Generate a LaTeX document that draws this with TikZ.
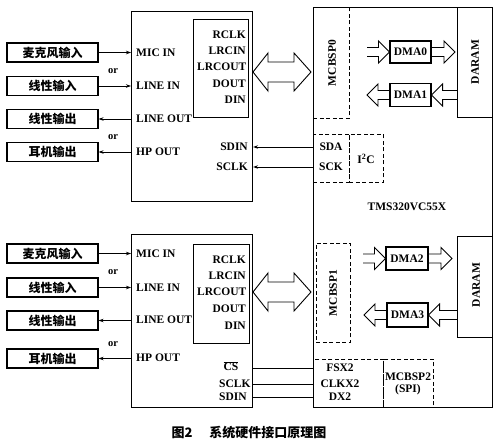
\documentclass[tikz,border=0pt]{standalone}
\usepackage{fontspec}
\setmainfont{Liberation Serif}
\newfontfamily\cjk{Noto Sans CJK SC}
\usetikzlibrary{arrows.meta,calc}
% hollow arrow: tail, head tip, signed head length
\newcommand{\hollowarrow}[3]{%
  \draw[hollow] let \p1=#1, \p2=#2 in
   (\x1,{\y1+4.5pt}) -- ({\x2+#3},{\y1+4.5pt}) -- ({\x2+#3},{\y1+11pt}) -- (\x2,\y1)
   -- ({\x2+#3},{\y1-11pt}) -- ({\x2+#3},{\y1-4.5pt}) -- (\x1,{\y1-4.5pt});}
% big double arrow between two points
\newcommand{\bigdarrow}[2]{%
  \draw[hollow] let \p1=#1, \p2=#2 in
   (\x1,\y1) -- ({\x1+15pt},{\y1+19pt}) -- ({\x1+15pt},{\y1+10pt}) -- ({\x2-17pt},{\y1+10pt})
   -- ({\x2-17pt},{\y1+19pt}) -- (\x2,\y1) -- ({\x2-17pt},{\y1-19pt}) -- ({\x2-17pt},{\y1-10pt})
   -- ({\x1+15pt},{\y1-10pt}) -- ({\x1+15pt},{\y1-19pt}) -- cycle;}
\begin{document}
\begin{tikzpicture}[x=1pt,y=-1pt,
  box/.style={draw,line width=1.1pt,inner sep=0pt,anchor=north west},
  dbox/.style={draw,line width=0.9pt,dash pattern=on 4pt off 2.5pt,inner sep=0pt,anchor=north west},
  srcbox/.style={draw,line width=1.1pt,minimum width=91pt,minimum height=19pt,inner sep=0pt,
    font=\cjk\bfseries\fontsize{12}{12}\selectfont},
  lbl/.style={font=\fontsize{11.5}{12}\selectfont\bfseries,inner sep=0pt},
  ortxt/.style={font=\fontsize{10.5}{10}\selectfont\bfseries,inner sep=0pt},
  conn/.style={line width=0.8pt,-{Stealth[length=5pt,width=3.5pt]}},
  plain/.style={line width=0.8pt},
  hollow/.style={line width=0.9pt,line join=miter}
]
\useasboundingbox (0,0) rectangle (500,445);

% ---------- codec A ----------
\node[box,minimum width=121pt,minimum height=190pt] (codecA) at (131,11) {};
\node[box,minimum width=55pt,minimum height=98pt] (innerA) at (193,19) {};
\node[lbl,anchor=east] (rclkA) at (246,35) {RCLK};
\node[lbl,anchor=east] (lrcinA) at (246,51) {LRCIN};
\node[lbl,anchor=east] (lrcoutA) at (246.5,67) {LRCOUT};
\node[lbl,anchor=east] (doutA) at (246,83.5) {DOUT};
\node[lbl,anchor=east] (dinA) at (246,100) {DIN};
\node[lbl,anchor=west] (micinA) at (136,52.5) {MIC IN};
\node[lbl,anchor=west] (lineinA) at (136,86) {LINE IN};
\node[lbl,anchor=west] (lineoutA) at (136,119) {LINE OUT};
\node[lbl,anchor=west] (hpoutA) at (136,152) {HP OUT};
\node[lbl,anchor=east] (sdinA) at (248,147) {SDIN};
\node[lbl,anchor=east] (sclkA) at (248,167) {SCLK};

\node[srcbox] (micA) at (52.5,52.5) {麦克风输入};
\node[srcbox] (linA) at (52.5,86) {线性输入};
\node[srcbox] (loutA) at (52.5,119) {线性输出};
\node[srcbox] (hpA) at (52.5,152) {耳机输出};
\node[ortxt] (orA1) at (113,71) {or};
\node[ortxt] (orA2) at (113,137) {or};
\draw[conn] (micA.east) -- (micA.east -| codecA.west);
\draw[conn] (linA.east) -- (linA.east -| codecA.west);
\draw[conn] (loutA.east -| codecA.west) -- (loutA.east);
\draw[conn] (hpA.east -| codecA.west) -- (hpA.east);

% ---------- codec B ----------
\node[box,minimum width=121pt,minimum height=173pt] (codecB) at (131,234) {};
\node[box,minimum width=56pt,minimum height=99pt] (innerB) at (193,244) {};
\node[lbl,anchor=east] (rclkB) at (246,260) {RCLK};
\node[lbl,anchor=east] (lrcinB) at (246,276) {LRCIN};
\node[lbl,anchor=east] (lrcoutB) at (246.5,292) {LRCOUT};
\node[lbl,anchor=east] (doutB) at (246,309) {DOUT};
\node[lbl,anchor=east] (dinB) at (246,326) {DIN};
\node[lbl,anchor=west] (micinB) at (136,253.5) {MIC IN};
\node[lbl,anchor=west] (lineinB) at (136,287.5) {LINE IN};
\node[lbl,anchor=west] (lineoutB) at (136,319.5) {LINE OUT};
\node[lbl,anchor=west] (hpoutB) at (136,358) {HP OUT};
\node[lbl] (csB) at (231,366) {$\overline{\hbox{\bfseries CS}}$};
\node[lbl,anchor=west] (sclkB) at (219,384) {SCLK};
\node[lbl,anchor=west] (sdinB) at (219,396.5) {SDIN};

\node[srcbox] (micB) at (52.5,253.5) {麦克风输入};
\node[srcbox] (linB) at (52.5,287.5) {线性输入};
\node[srcbox] (loutB) at (52.5,320.5) {线性输出};
\node[srcbox] (hpB) at (52.5,358.5) {耳机输出};
\node[ortxt] (orB1) at (113,272) {or};
\node[ortxt] (orB2) at (113,344) {or};
\draw[conn] (micB.east) -- (micB.east -| codecB.west);
\draw[conn] (linB.east) -- (linB.east -| codecB.west);
\draw[conn] (loutB.east -| codecB.west) -- (loutB.east);
\draw[conn] (hpB.east -| codecB.west) -- (hpB.east);

% ---------- DSP ----------
\node[box,line width=1.2pt,minimum width=179pt,minimum height=400pt] (dsp) at (313,7) {};
\node[dbox,minimum width=36pt,minimum height=111pt] (mcbsp0) at (313,7) {};
\node[lbl,rotate=90] (mcbsp0t) at (332,63) {MCBSP0};
\node[box,minimum width=35pt,minimum height=110pt] (daramA) at (457,7) {};
\node[lbl,rotate=90] (daramAt) at (475,62) {DARAM};
\node[box,minimum width=41pt,minimum height=22pt,anchor=center,font=\fontsize{11.5}{12}\selectfont\bfseries] (dma0) at (410.5,52) {DMA0};
\node[box,minimum width=41pt,minimum height=23pt,anchor=center,font=\fontsize{11.5}{12}\selectfont\bfseries] (dma1) at (410.5,95) {DMA1};

\node[dbox,minimum width=36pt,minimum height=48pt] (sdabox) at (313,134) {};
\node[dbox,minimum width=34pt,minimum height=48pt] (i2cbox) at (349,134) {};
\node[lbl] (sda) at (331,147) {SDA};
\node[lbl] (sck) at (331,167) {SCK};
\node[lbl] (i2c) at (366,159) {I\textsuperscript{2}C};
\draw[conn] (dsp.west |- sda) -- (codecA.east |- sda);
\draw[conn] (dsp.west |- sck) -- (codecA.east |- sck);

\node[lbl] (tms) at (407,207) {TMS320VC55X};

\node[dbox,minimum width=34pt,minimum height=99pt] (mcbsp1) at (316,243) {};
\node[lbl,rotate=90] (mcbsp1t) at (333,293) {MCBSP1};
\node[box,minimum width=35pt,minimum height=101pt] (daramB) at (457,236) {};
\node[lbl,rotate=90] (daramBt) at (476,285) {DARAM};
\node[box,minimum width=42pt,minimum height=23pt,anchor=center,font=\fontsize{11.5}{12}\selectfont\bfseries] (dma2) at (407,258.5) {DMA2};
\node[box,minimum width=41pt,minimum height=24pt,anchor=center,font=\fontsize{11.5}{12}\selectfont\bfseries] (dma3) at (407.5,315) {DMA3};

\node[dbox,minimum width=70pt,minimum height=48pt] (fsxbox) at (313,359) {};
\node[dbox,minimum width=50pt,minimum height=48pt] (spibox) at (383,359) {};
\node[lbl] (fsx) at (340,368) {FSX2};
\node[lbl] (clkx) at (340,384) {CLKX2};
\node[lbl] (dx) at (340,397) {DX2};
\node[lbl] (mcbsp2) at (408,377) {MCBSP2};
\node[lbl] (spi) at (408,390) {(SPI)};
\draw[plain] (codecB.east |- fsx) -- (dsp.west |- fsx);
\draw[plain] (codecB.east |- clkx) -- (dsp.west |- clkx);
\draw[plain] (codecB.east |- dx) -- (dsp.west |- dx);

% ---------- hollow arrows ----------
\coordinate (bAl) at (253,72);
\coordinate (bAr) at (311,72);
\bigdarrow{(bAl)}{(bAr)}
\coordinate (bBl) at (253,292);
\coordinate (bBr) at (311,292);
\bigdarrow{(bBl)}{(bBr)}

\coordinate (t0) at (367,52);
\hollowarrow{(t0)}{(dma0.west)}{-11pt}
\hollowarrow{(dma0.east)}{($(daramA.west |- dma0)+(-2,0)$)}{-11pt}
\coordinate (t1) at (367,95);
\hollowarrow{(dma1.west)}{(t1)}{11pt}
\hollowarrow{(daramA.west |- dma1)}{(dma1.east)}{11pt}

\coordinate (t2) at (363,258.5);
\hollowarrow{(t2)}{(dma2.west)}{-11pt}
\hollowarrow{(dma2.east)}{($(daramB.west |- dma2)+(-5,0)$)}{-11pt}
\coordinate (t3) at (364,315);
\hollowarrow{(dma3.west)}{(t3)}{11pt}
\hollowarrow{(daramB.west |- dma3)}{(dma3.east)}{11pt}

% ---------- caption ----------
\node[font=\cjk\bfseries\fontsize{13}{13}\selectfont,inner sep=0pt] (cap) at (249,433) {图2\hspace{1.3em}系统硬件接口原理图};
\end{tikzpicture}
\end{document}
